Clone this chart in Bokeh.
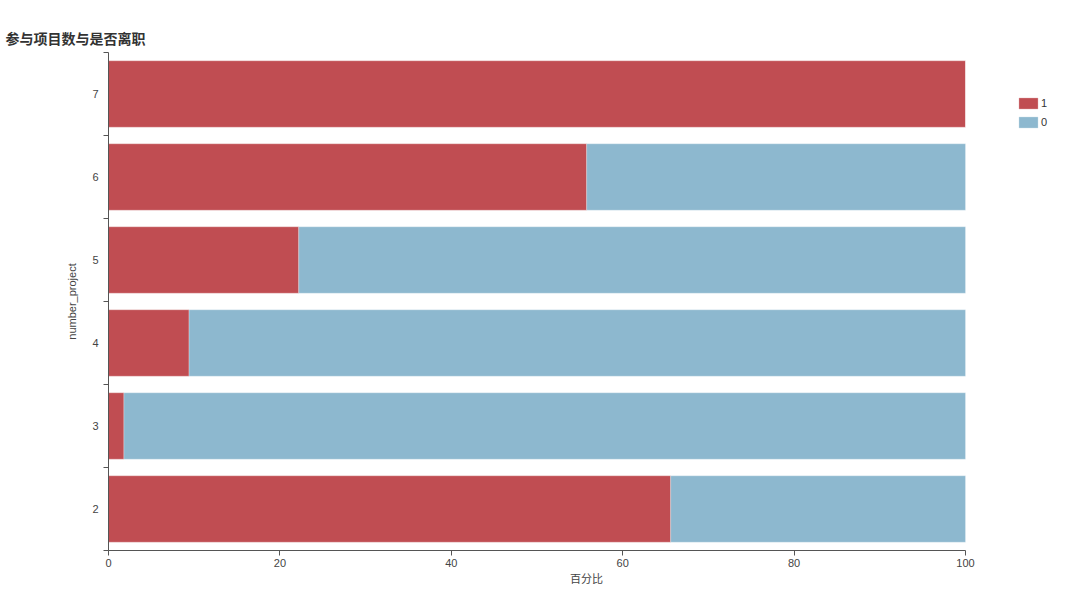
from bokeh.plotting import figure
from bokeh.models import FixedTicker, Legend, LegendItem, ColumnDataSource, Range1d, LinearAxis
from bokeh.embed import file_html
from bokeh.resources import INLINE

# data
projects = [2, 3, 4, 5, 6, 7]
left_1 = [65.6, 1.8, 9.4, 22.2, 55.8, 100.0]   # 离职 = 1 (%)
stay_0 = [34.4, 98.2, 90.6, 77.8, 44.2, 0.0]   # 离职 = 0 (%)
x_ticks = [0, 20, 40, 60, 80, 100]
series_names = ["1", "0"]
colors = ["#c04d52", "#8db8cf"]

FONT = "Noto Sans CJK SC"
NUMFONT = "Liberation Sans"

W, H = 1064, 588
LEFT, TOP, PLOT_W = 108, 52, 857   # axis area in pixels
x_end = 100 * (W - LEFT) / PLOT_W   # extra room on the right for the legend

src = ColumnDataSource(dict(y=projects, s1=left_1, s0=stay_0))

p = figure(width=W, height=H, output_backend="svg", toolbar_location=None,
           x_range=Range1d(0, x_end), y_range=Range1d(1.5, 7.5),
           min_border_left=LEFT, min_border_right=0, min_border_top=TOP,
           min_border_bottom=10)
p.outline_line_color = None
p.grid.visible = False
p.background_fill_color = "white"

rs = p.hbar_stack(["s1", "s0"], y="y", height=0.8, color=colors, source=src,
                  line_color="white", line_alpha=0.5, line_width=0.5)

xa = p.below[0]
xa.ticker = FixedTicker(ticks=x_ticks)
xa.bounds = (0, 100)
xa.axis_label = "百分比"
xa.axis_label_text_font = FONT
xa.axis_label_text_font_size = "11px"
xa.axis_label_text_font_style = "normal"
xa.axis_label_text_color = "#444444"
xa.axis_label_standoff = 0
xa.major_label_text_font = NUMFONT
xa.major_label_text_font_size = "11px"
xa.major_label_text_color = "#444444"
xa.major_label_standoff = 3
xa.major_tick_out = 5
xa.major_tick_in = 0
xa.minor_tick_out = 0
xa.minor_tick_in = 0
xa.axis_line_color = "#555555"
xa.major_tick_line_color = "#555555"

ya = p.left[0]
ya.ticker = FixedTicker(ticks=projects, minor_ticks=[1.5, 2.5, 3.5, 4.5, 5.5, 6.5, 7.5])
ya.axis_label = "number_project"
ya.axis_label_text_font = NUMFONT
ya.axis_label_text_font_size = "11px"
ya.axis_label_text_font_style = "normal"
ya.axis_label_text_color = "#444444"
ya.axis_label_standoff = 11
ya.major_label_text_font = NUMFONT
ya.major_label_text_font_size = "11px"
ya.major_label_text_color = "#444444"
ya.major_label_standoff = 5
ya.major_tick_out = 0
ya.major_tick_in = 0
ya.minor_tick_out = 5
ya.minor_tick_in = 0
ya.minor_tick_line_color = "#555555"
ya.axis_line_color = "#555555"

# empty spacer axis above the plot (no ticks, no line), so the title sits near the top edge
spacer = LinearAxis(ticker=FixedTicker(ticks=[], minor_ticks=[]), axis_line_color=None,
                    major_tick_line_color=None, minor_tick_line_color=None,
                    major_label_text_font_size="0px",
                    major_tick_out=22, major_tick_in=0, minor_tick_out=0, minor_tick_in=0,
                    major_label_standoff=0)
p.add_layout(spacer, "above")

p.title.text = "参与项目数与是否离职"
p.title.text_font = FONT
p.title.text_font_size = "14px"
p.title.text_font_style = "bold"
p.title.text_color = "#333333"
p.title.align = "left"
p.title.vertical_align = "middle"
p.title.offset = -103
p.title.standoff = 8

legend = Legend(items=[LegendItem(label=series_names[0], renderers=[rs[0]]),
                       LegendItem(label=series_names[1], renderers=[rs[1]])],
                location=(908, 421), orientation="vertical")
legend.glyph_width = 24
legend.glyph_height = 14
legend.label_text_font = NUMFONT
legend.label_text_font_size = "11px"
legend.label_text_color = "#333333"
legend.label_standoff = 1
legend.spacing = 5
legend.padding = 0
legend.margin = 0
legend.border_line_color = None
legend.background_fill_alpha = 0
legend.label_height = 13
p.add_layout(legend, "center")

open("out.html", "w").write(file_html(p, INLINE))
